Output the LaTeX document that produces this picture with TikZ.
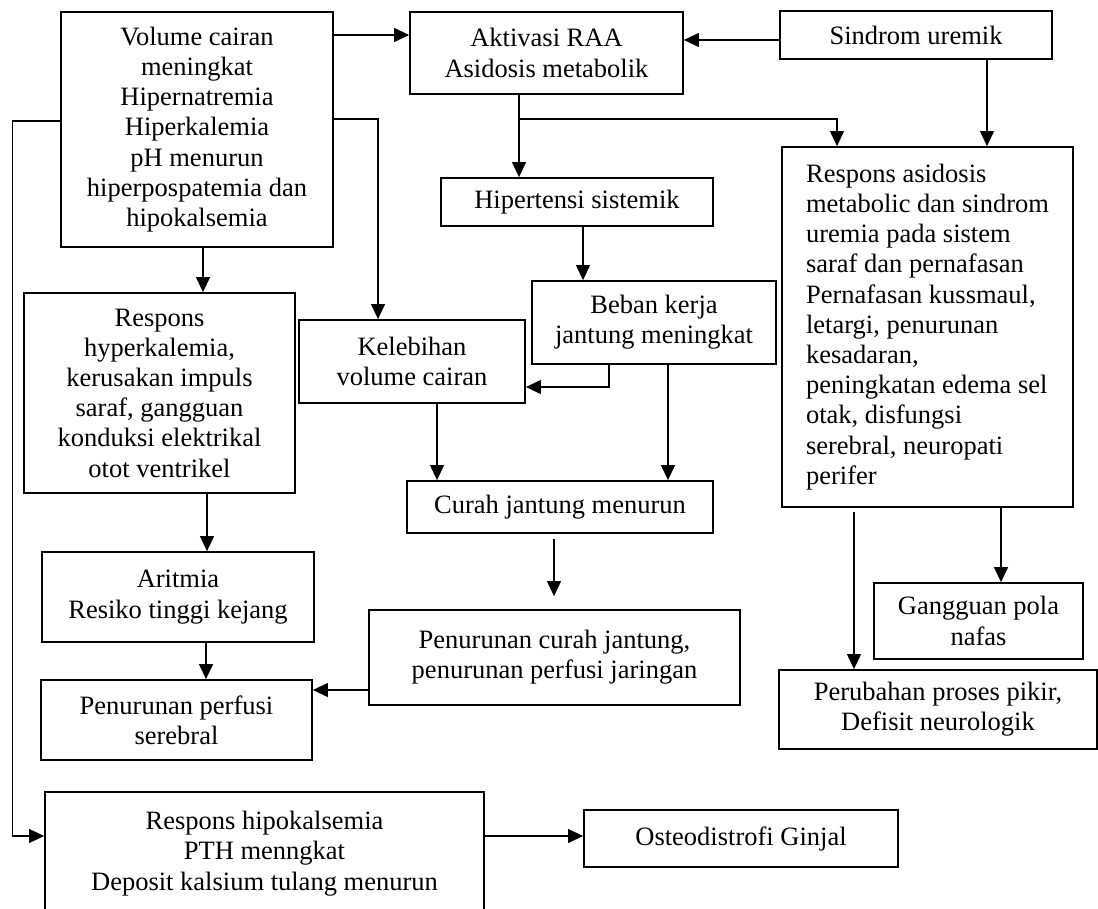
\documentclass[tikz,border=0pt]{standalone}
\usepackage{fontspec}
\setmainfont{Liberation Serif}
\usetikzlibrary{arrows.meta}
\begin{document}
\begin{tikzpicture}[x=0.5pt,y=-0.5pt,
  bx/.style={draw, line width=0.9pt, align=center, inner sep=0pt, anchor=center,
     font=\fontsize{13.25}{15.1}\selectfont},
  arr/.style={line width=0.6pt, -{Triangle[length=7.5pt,width=7pt]}}]
\useasboundingbox (0,0) rectangle (1098,909);
\clip (0,0) rectangle (1098,909);
% boxes
\node[bx, minimum width=136pt, minimum height=117.5pt] (A) at (197,129.5)
  {Volume cairan\\meningkat\\Hipernatremia\\Hiperkalemia\\pH menurun\\hiperpospatemia dan\\hipokalsemia};
\node[bx, minimum width=136.5pt, minimum height=41pt] (B) at (546.5,53)
  {Aktivasi RAA\\Asidosis metabolik};
\node[bx, minimum width=136pt, minimum height=24pt] (C) at (916,35) {Sindrom uremik};
\node[bx, minimum width=136pt, minimum height=24pt] (D) at (577,202) {Hipertensi sistemik};
\node[bx, align=left, minimum width=145.5pt, minimum height=180pt] (E) at (927.5,327)
  {Respons asidosis\\metabolic dan sindrom\\uremia pada sistem\\saraf dan pernafasan\\Pernafasan kussmaul,\\letargi, penurunan\\kesadaran,\\peningkatan edema sel\\otak, disfungsi\\serebral, neuropati\\perifer};
\node[bx, minimum width=122pt, minimum height=41.5pt] (F) at (654,322.5)
  {Beban kerja\\jantung meningkat};
\node[bx, minimum width=113pt, minimum height=41.5pt] (G) at (412,361.5)
  {Kelebihan\\volume cairan};
\node[bx, minimum width=135.5pt, minimum height=100pt] (H) at (159.5,393)
  {Respons\\hyperkalemia,\\kerusakan impuls\\saraf, gangguan\\konduksi elektrikal\\otot ventrikel};
\node[bx, minimum width=153pt, minimum height=26pt] (I) at (560,507) {Curah jantung menurun};
\node[bx, minimum width=136pt, minimum height=45pt] (J) at (178,597)
  {Aritmia\\Resiko tinggi kejang};
\node[bx, minimum width=185.5pt, minimum height=47.5pt] (K) at (554.5,657.5)
  {Penurunan curah jantung,\\penurunan perfusi jaringan};
\node[bx, minimum width=135.5pt, minimum height=40pt] (L) at (176.5,720)
  {Penurunan perfusi\\serebral};
\node[bx, minimum width=104.5pt, minimum height=38pt] (M) at (978.5,621)
  {Gangguan pola\\nafas};
\node[bx, minimum width=159pt, minimum height=39.5pt] (N) at (938,709.5)
  {Perubahan proses pikir,\\Defisit neurologik};
\node[bx, minimum width=219.5pt, minimum height=61.5pt] (O) at (264.5,853.5)
  {Respons hipokalsemia\\PTH menngkat\\Deposit kalsium tulang menurun};
\node[bx, minimum width=157pt, minimum height=28.5pt] (P) at (741,838.5)
  {Osteodistrofi Ginjal};
% connectors
\coordinate (j1) at (519,119);
\draw[arr] (A.east |- 0,35) -- (B.west |- 0,35);
\draw[arr] (C.west |- 0,40) -- (B.east |- 0,40);
\draw[arr] (B.south -| 519,0) -- (D.north -| 519,0);
\draw[arr] (j1) -| (E.north -| 837,0);
\draw[arr] (C.south -| 987,0) -- (E.north -| 987,0);
\draw[arr] (A.east |- 0,119) -| (G.north -| 378,0);
\draw[arr] (A.west |- 0,121) -- ++(-48,0) |- (O.west |- 0,836);
\draw[arr] (A.south -| 203,0) -- (H.north -| 203,0);
\draw[arr] (D.south -| 583,0) -- (F.north -| 583,0);
\draw[arr] (F.south -| 609,0) |- (G.east |- 0,387);
\draw[arr] (F.south -| 668,0) -- (I.north -| 668,0);
\draw[arr] (G.south -| 437,0) -- (I.north -| 437,0);
\draw[arr] (H.south -| 207,0) -- (J.north -| 207,0);
\draw[arr] (J.south -| 206,0) -- (L.north -| 206,0);
\draw[arr, shorten <=2.5pt, shorten >=6.5pt] (I.south -| 554,0) -- (K.north -| 554,0);
\draw[arr] (K.west |- 0,690) -- (L.east |- 0,690);
\draw[arr] (E.south -| 1001,0) -- (M.north -| 1001,0);
\draw[arr, shorten <=2pt] (E.south -| 854,0) -- (N.north -| 854,0);
\draw[arr] (O.east |- 0,836) -- (P.west |- 0,836);
\end{tikzpicture}
\end{document}
